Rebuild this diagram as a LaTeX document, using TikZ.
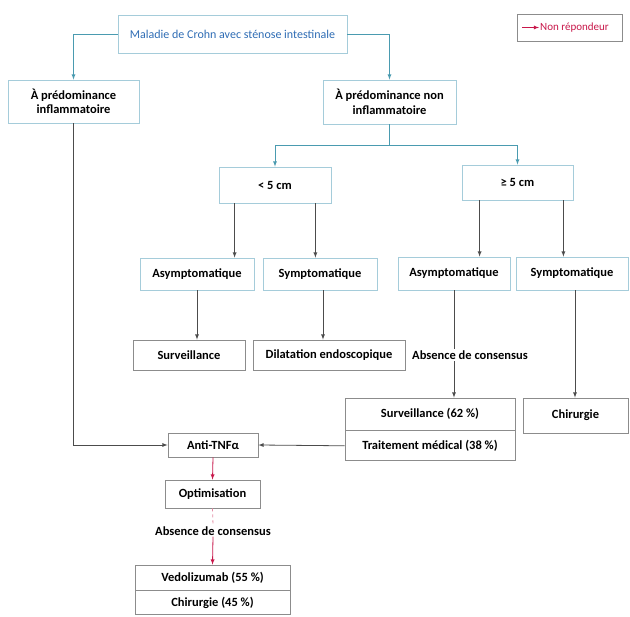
\documentclass[tikz,border=0pt]{standalone}
\usepackage{fontspec}
\setmainfont{Carlito}
\usetikzlibrary{positioning,arrows}
\definecolor{crohnblue}{HTML}{2F6DB5}
\definecolor{tealline}{HTML}{4A9BB0}
\definecolor{paleblue}{HTML}{A5CCDA}
\definecolor{boxgray}{HTML}{8C8C8C}
\definecolor{nonrep}{HTML}{C8174A}

\begin{document}
\begin{tikzpicture}[x=1pt,y=-1pt,
  every node/.style = {font=\bfseries\fontsize{12.5}{14.5}\selectfont,
    align=center, inner sep=1pt},
  box/.style = {draw=boxgray, line width=0.8pt, rectangle},
  bluebox/.style = {box, draw=paleblue},
  link/.style = {draw=black!70, line width=0.8pt, -latex},
  bluelink/.style = {link, draw=tealline},
  redlink/.style = {link, draw=nonrep}
  ]
  \useasboundingbox[fill=white] (0,0) rectangle (630,617);
  % top level
  \node[bluebox, text=crohnblue, font=\fontsize{12}{14}\selectfont,
    minimum width=229pt, minimum height=38pt] (crohn) at (232.5,34)
    {Maladie de Crohn avec sténose intestinale};
  \node[box, minimum width=105pt, minimum height=27pt] (legend) at (569.5,27.5) {};
  \node[font=\fontsize{11}{13}\selectfont, text=nonrep, anchor=west] (legtxt) at (539,27.5) {Non répondeur};
  \coordinate (legfrom) at (522,27.5);
  \node[bluebox, minimum width=131pt, minimum height=43pt] (inflam) at (73.5,101.5)
    {À prédominance\\inflammatoire};
  \node[bluebox, minimum width=133pt, minimum height=44pt] (noninflam) at (389.5,102)
    {À prédominance non\\inflammatoire};
  % length of the stenosis
  \node[bluebox, minimum width=112pt, minimum height=36pt] (lt5) at (275,185) {< 5 cm};
  \node[bluebox, minimum width=111pt, minimum height=35pt] (ge5) at (517.5,182.5) {≥ 5 cm};
  \node[bluebox, minimum width=114pt, minimum height=32pt] (asymL) at (197,274) {Asymptomatique};
  \node[bluebox, minimum width=114pt, minimum height=32pt] (symL) at (320,274) {Symptomatique};
  \node[bluebox, minimum width=112pt, minimum height=33pt] (asymR) at (454,273.5) {Asymptomatique};
  \node[bluebox, minimum width=112pt, minimum height=33pt] (symR) at (572,273.5) {Symptomatique};
  % management
  \node[box, minimum width=112pt, minimum height=30pt] (survL) at (189,355) {Surveillance};
  \node[box, minimum width=152pt, minimum height=30pt] (dilat) at (329,355) {Dilatation endoscopique};
  \node[box, minimum width=170pt, minimum height=32pt] (survA) at (430,414) {Surveillance (62 \%)};
  \node[box, minimum width=170pt, minimum height=30pt, below=0pt of survA] (trait) {Traitement médical (38 \%)};
  \node[box, minimum width=105pt, minimum height=35pt] (chir) at (575.5,415.5) {Chirurgie};
  \node[box, minimum width=90pt, minimum height=24pt] (anti) at (213,445) {Anti-TNFα};
  \node[box, minimum width=95pt, minimum height=28pt] (optim) at (212.5,494) {Optimisation};
  \node (abs2) at (213,531) {Absence de consensus};
  \node[box, minimum width=155pt, minimum height=25pt] (vedo) at (212.5,577.5) {Vedolizumab (55 \%)};
  \node[box, minimum width=155pt, minimum height=24pt, below=0pt of vedo] (chir2) {Chirurgie (45 \%)};

  % connectors
  \draw[redlink] (legfrom) -- (legtxt.west);
  \draw[bluelink] (crohn.west) -| (inflam.north);
  \draw[bluelink] (crohn.east) -| (noninflam.north);
  \coordinate (split) at ([yshift=-21pt]noninflam.south);
  \draw[bluelink, -] (noninflam.south) -- (split);
  \draw[bluelink] (split) -| (lt5.north);
  \draw[bluelink] (split) -| (ge5.north);
  \coordinate (lt5a) at ([xshift=16pt]lt5.south west);
  \coordinate (lt5b) at ([xshift=-16pt]lt5.south east);
  \coordinate (ge5a) at ([xshift=18pt]ge5.south west);
  \coordinate (ge5b) at ([xshift=-10pt]ge5.south east);
  \draw[link] (lt5a) -- (lt5a |- asymL.north);
  \draw[link] (lt5b) -- (lt5b |- symL.north);
  \draw[link] (ge5a) -- (ge5a |- asymR.north);
  \draw[link] (ge5b) -- (ge5b |- symR.north);
  \draw[link] (asymL.south) -- (asymL.south |- survL.north);
  \draw[link] ([xshift=3pt]symL.south) -- ([xshift=3pt]symL.south |- dilat.north);
  \draw[link] (asymR.south) -- (asymR.south |- survA.north);
  \node[fill=white, inner sep=2pt] (absR) at (470,355) {Absence de consensus};
  \draw[link] ([xshift=3pt]symR.south) -- ([xshift=3pt]symR.south |- chir.north);
  \draw[link] (trait.west) -- (anti.east);
  \draw[link] (inflam.south) |- (anti.west);
  \draw[redlink] (anti.south) -- (optim.north);
  \draw[draw=nonrep!50, line width=0.8pt, dashed] (optim.south) -- (abs2.north);
  \draw[redlink] (abs2.south) -- (vedo.north);
\end{tikzpicture}
\end{document}
